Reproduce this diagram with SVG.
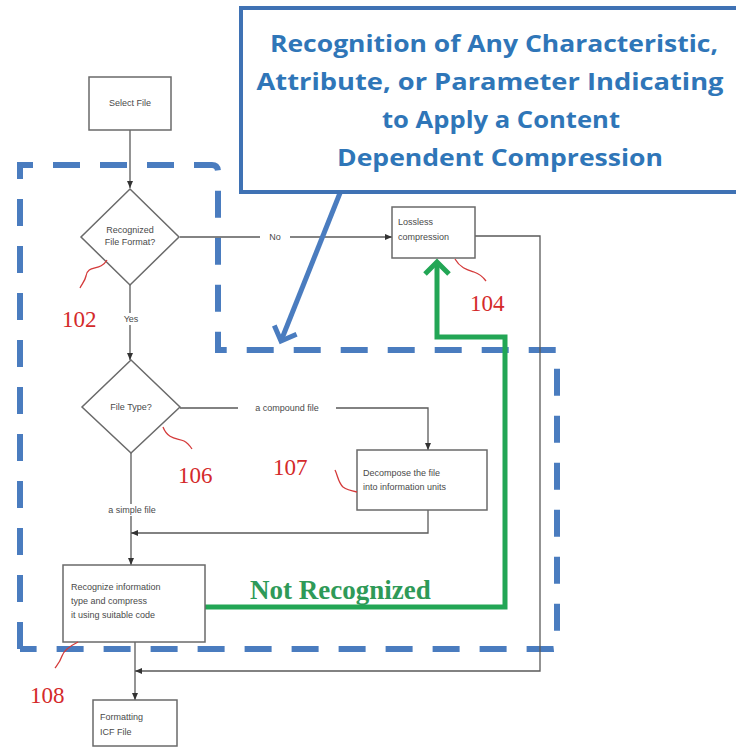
<svg xmlns="http://www.w3.org/2000/svg" width="736" height="752" viewBox="0 0 736 752">
<style>
.box{fill:#fff;stroke:#6a6a6a;stroke-width:1.5}
.t{font-family:"Liberation Sans",Arial,sans-serif;font-size:9px;fill:#4a4a4a}
.ln{fill:none;stroke:#5a5a5a;stroke-width:1.3}
.ref{font-family:"Liberation Serif","Times New Roman",serif;font-size:23px;fill:#d42a2a}
.sq{fill:none;stroke:#d43a3a;stroke-width:1.3}
.dash{fill:none;stroke:#4a7cbf;stroke-width:6;stroke-dasharray:27 20}
.call{font-family:"Open Sans","Noto Sans",sans-serif;font-weight:700;font-size:24px;fill:#2f76b8}
.lbl{fill:#fff}
</style>
<defs>
<marker id="ah" markerWidth="8" markerHeight="8" refX="7" refY="4" orient="auto" markerUnits="userSpaceOnUse">
<path d="M0,1 L7,4 L0,7 Z" fill="#333"/>
</marker>
<marker id="gh" markerWidth="30" markerHeight="30" refX="15" refY="15" orient="auto" markerUnits="userSpaceOnUse">
<path d="M3,3 L15,15 L3,27" fill="none" stroke="#22a655" stroke-width="5"/>
</marker>
<marker id="bh" markerWidth="30" markerHeight="30" refX="15" refY="15" orient="auto" markerUnits="userSpaceOnUse">
<path d="M3,3 L15,15 L3,27" fill="none" stroke="#4a7cbf" stroke-width="5"/>
</marker>
</defs>
<rect width="736" height="752" fill="#fff"/>

<g id="region">
<path class="dash" d="M20,649 L20,165 L212,165 Q218,165 218,172 L218,350 L557,350 L557,645 Q557,649 553,649 L20,649"/>
</g>

<g id="connectors">
<path class="ln" d="M130,130 L130,188" marker-end="url(#ah)"/>
<path class="ln" d="M180,237 L392,237" marker-end="url(#ah)"/>
<rect class="lbl" x="260" y="230" width="30" height="14"/>
<text class="t" x="275" y="240" text-anchor="middle">No</text>
<path class="ln" d="M475,236 L540,236 L540,671 L135,671" marker-end="url(#ah)"/>
<path class="ln" d="M130,285 L130,360" marker-end="url(#ah)"/>
<rect class="lbl" x="121" y="313" width="20" height="12"/>
<text class="t" x="131" y="322" text-anchor="middle">Yes</text>
<path class="ln" d="M180,408 L428,408 L428,450" marker-end="url(#ah)"/>
<rect class="lbl" x="238" y="402" width="98" height="12"/>
<text class="t" x="287" y="411" text-anchor="middle">a compound file</text>
<path class="ln" d="M131,453 L131,565" marker-end="url(#ah)"/>
<rect class="lbl" x="98" y="504" width="68" height="12"/>
<text class="t" x="132" y="513" text-anchor="middle">a simple file</text>
<path class="ln" d="M428,510 L428,533 L131,533" marker-end="url(#ah)"/>
<path class="ln" d="M135,642 L135,700" marker-end="url(#ah)"/>
<path d="M205,607 L505,607 L505,337 L437,337 L437,262" fill="none" stroke="#22a655" stroke-width="5" marker-end="url(#gh)"/>
<text x="250" y="599" font-family="Liberation Serif,'Times New Roman',serif" font-weight="700" font-size="27" fill="#2e9a58">Not Recognized</text>
<path d="M340,193 L281,341" fill="none" stroke="#4a7cbf" stroke-width="5" marker-end="url(#bh)"/>
</g>

<g id="select-file">
<rect class="box" x="89" y="77" width="82" height="53"/>
<text class="t" x="130" y="106" text-anchor="middle">Select File</text>
</g>

<g id="n102">
<path class="box" d="M130,189 L179,237 L130,285 L81,237 Z"/>
<text class="t" x="130" y="233" text-anchor="middle">Recognized</text>
<text class="t" x="130" y="245" text-anchor="middle">File Format?</text>
<path class="sq" d="M107,260 C100,272 88,264 86,276 C85,281 82,284 80,288"/>
<text class="ref" x="62" y="327">102</text>
</g>

<g id="n104">
<rect class="box" x="392" y="207" width="83" height="51"/>
<text class="t" x="398" y="225">Lossless</text>
<text class="t" x="398" y="240">compression</text>
<path class="sq" d="M455,259 C460,268 468,270 474,272 C480,274 483,277 486,281"/>
<text class="ref" x="470" y="311">104</text>
</g>

<g id="n106">
<path class="box" d="M131,360 L180,407 L131,453 L82,407 Z"/>
<text class="t" x="131" y="410" text-anchor="middle">File Type?</text>
<path class="sq" d="M163,427 C168,440 178,438 184,441 C188,443 190,446 192,449"/>
<text class="ref" x="178" y="483">106</text>
</g>

<g id="n107">
<rect class="box" x="357" y="450" width="130" height="60"/>
<text class="t" x="363" y="476">Decompose the file</text>
<text class="t" x="363" y="490">into information units</text>
<path class="sq" d="M335,470 C338,476 338,482 343,487 C347,490 352,491 357,492"/>
<text class="ref" x="273" y="475">107</text>
</g>

<g id="n108">
<rect class="box" x="63" y="565" width="142" height="77"/>
<text class="t" x="71" y="590">Recognize information</text>
<text class="t" x="71" y="604">type and compress</text>
<text class="t" x="71" y="618">it using suitable code</text>
<path class="sq" d="M78,642 C70,646 64,650 62,656 C60,662 58,664 55,668"/>
<text class="ref" x="30" y="703">108</text>
</g>

<g id="formatting">
<rect class="box" x="93" y="700" width="84" height="46"/>
<text class="t" x="100" y="720">Formatting</text>
<text class="t" x="100" y="735">ICF File</text>
</g>

<g id="callout">
<rect x="241" y="8" width="510" height="184" fill="#fff" stroke="#3f72b4" stroke-width="4"/>
<text class="call" x="494" y="52" text-anchor="middle" textLength="448" lengthAdjust="spacingAndGlyphs">Recognition of Any Characteristic,</text>
<text class="call" x="490" y="90" text-anchor="middle" textLength="467" lengthAdjust="spacingAndGlyphs">Attribute, or Parameter Indicating</text>
<text class="call" x="501" y="128" text-anchor="middle" textLength="238" lengthAdjust="spacingAndGlyphs">to Apply a Content</text>
<text class="call" x="500" y="166" text-anchor="middle" textLength="326" lengthAdjust="spacingAndGlyphs">Dependent Compression</text>
</g>
</svg>
